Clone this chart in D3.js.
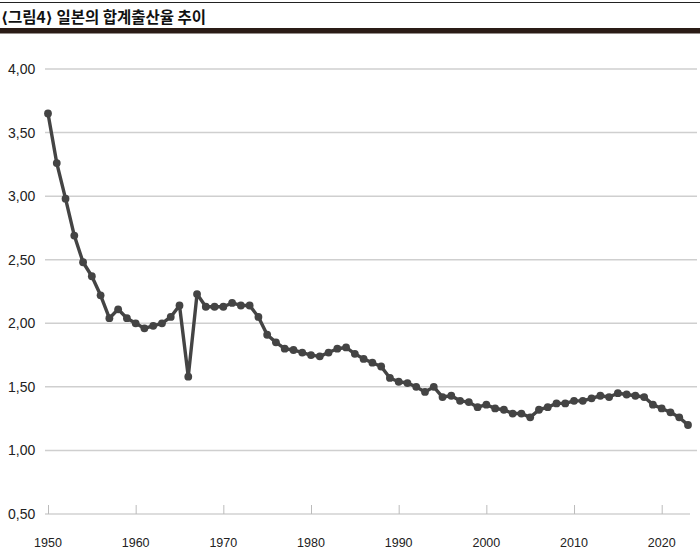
<!DOCTYPE html>
<meta charset="utf-8">
<style>
body { margin: 0; background: #fff; }
svg { display: block; }
.grid line { stroke: #cfcfcf; stroke-width: 1.5; }
.ylab text { font-family: "Liberation Sans", Arial, sans-serif; font-size: 14px; fill: #222; }
.xlab text { font-family: "Liberation Sans Narrow", "Liberation Sans", sans-serif; font-size: 12.5px; fill: #222; }
.title { font-family: "Noto Sans CJK KR", sans-serif; font-weight: 700; font-size: 15.5px; fill: #111; }
.title .br { font-family: "DejaVu Sans", sans-serif; font-weight: 700; }
</style>
<svg width="700" height="560"></svg>
<script src="https://d3js.org/d3.v7.min.js"></script>
<script>

var years = d3.range(1950, 2024);
var tfr = [3.65, 3.26, 2.98, 2.69, 2.48, 2.37, 2.22, 2.04, 2.11, 2.04,
           2.00, 1.96, 1.98, 2.00, 2.05, 2.14, 1.58, 2.23, 2.13, 2.13,
           2.13, 2.16, 2.14, 2.14, 2.05, 1.91, 1.85, 1.80, 1.79, 1.77,
           1.75, 1.74, 1.77, 1.80, 1.81, 1.76, 1.72, 1.69, 1.66, 1.57,
           1.54, 1.53, 1.50, 1.46, 1.50, 1.42, 1.43, 1.39, 1.38, 1.34,
           1.36, 1.33, 1.32, 1.29, 1.29, 1.26, 1.32, 1.34, 1.37, 1.37,
           1.39, 1.39, 1.41, 1.43, 1.42, 1.45, 1.44, 1.43, 1.42, 1.36,
           1.33, 1.30, 1.26, 1.20];
var yTicks = [0.5, 1.0, 1.5, 2.0, 2.5, 3.0, 3.5, 4.0];
var xTicks = [1950, 1960, 1970, 1980, 1990, 2000, 2010, 2020];
// title pieces; brackets set in a narrow font like the print original
var titleParts = ["⟨", "그림4", "⟩", " 일본의 합계출산율 추이"];

var svg = d3.select("svg");

var x = d3.scaleLinear().domain([1950, 2023]).range([48, 688]);
var y = d3.scaleLinear().domain([0.5, 4.0]).range([514, 69]);

// header
svg.append("line")
    .attr("x1", 0).attr("x2", 700).attr("y1", 2.5).attr("y2", 2.5)
    .attr("stroke", "#222").attr("stroke-width", 1);
svg.append("text")
    .attr("class", "title")
    .attr("x", 1).attr("y", 23)
    .selectAll("tspan")
    .data(titleParts)
  .enter().append("tspan")
    .attr("class", function(d, i) { return i % 2 === 0 && i < 3 ? "br" : null; })
    .text(function(d) { return d; });
svg.append("rect")
    .attr("x", 0).attr("y", 28).attr("width", 700).attr("height", 5.5)
    .attr("fill", "#2a1c16");

// grid
svg.append("g")
    .attr("class", "grid")
    .selectAll("line")
    .data(yTicks.filter(function(d) { return d > 0.5; }))
  .enter().append("line")
    .attr("x1", 45).attr("x2", 697)
    .attr("y1", function(d) { return y(d); })
    .attr("y2", function(d) { return y(d); });

// baseline axis with upward ticks
var xAxis = d3.axisTop(x)
    .tickValues(xTicks)
    .tickSize(9)
    .tickSizeOuter(0)
    .tickFormat("");
var ax = svg.append("g")
    .attr("transform", "translate(0," + y(0.5) + ")")
    .call(xAxis);
ax.select(".domain").attr("stroke", "#bbb").attr("stroke-width", 1.2)
    .attr("d", "M45,0H690");
ax.selectAll(".tick line").attr("stroke", "#bbb").attr("stroke-width", 1);

// y labels
svg.append("g")
    .attr("class", "ylab")
    .selectAll("text")
    .data(yTicks)
  .enter().append("text")
    .attr("x", 8)
    .attr("y", function(d) { return y(d) + 5; })
    .text(function(d) { return d.toFixed(2).replace(".", ","); });

// x labels
svg.append("g")
    .attr("class", "xlab")
    .selectAll("text")
    .data(xTicks)
  .enter().append("text")
    .attr("x", function(d) { return x(d); })
    .attr("y", 547)
    .attr("text-anchor", "middle")
    .text(function(d) { return d; });

// series
var line = d3.line()
    .x(function(d, i) { return x(years[i]); })
    .y(function(d) { return y(d); });

svg.append("path")
    .datum(tfr)
    .attr("fill", "none")
    .attr("stroke", "#444")
    .attr("stroke-width", 3.4)
    .attr("stroke-linejoin", "round")
    .attr("d", line);

svg.append("g")
    .selectAll("circle")
    .data(tfr)
  .enter().append("circle")
    .attr("cx", function(d, i) { return x(years[i]); })
    .attr("cy", function(d) { return y(d); })
    .attr("r", 3.9)
    .attr("fill", "#444");

</script>
